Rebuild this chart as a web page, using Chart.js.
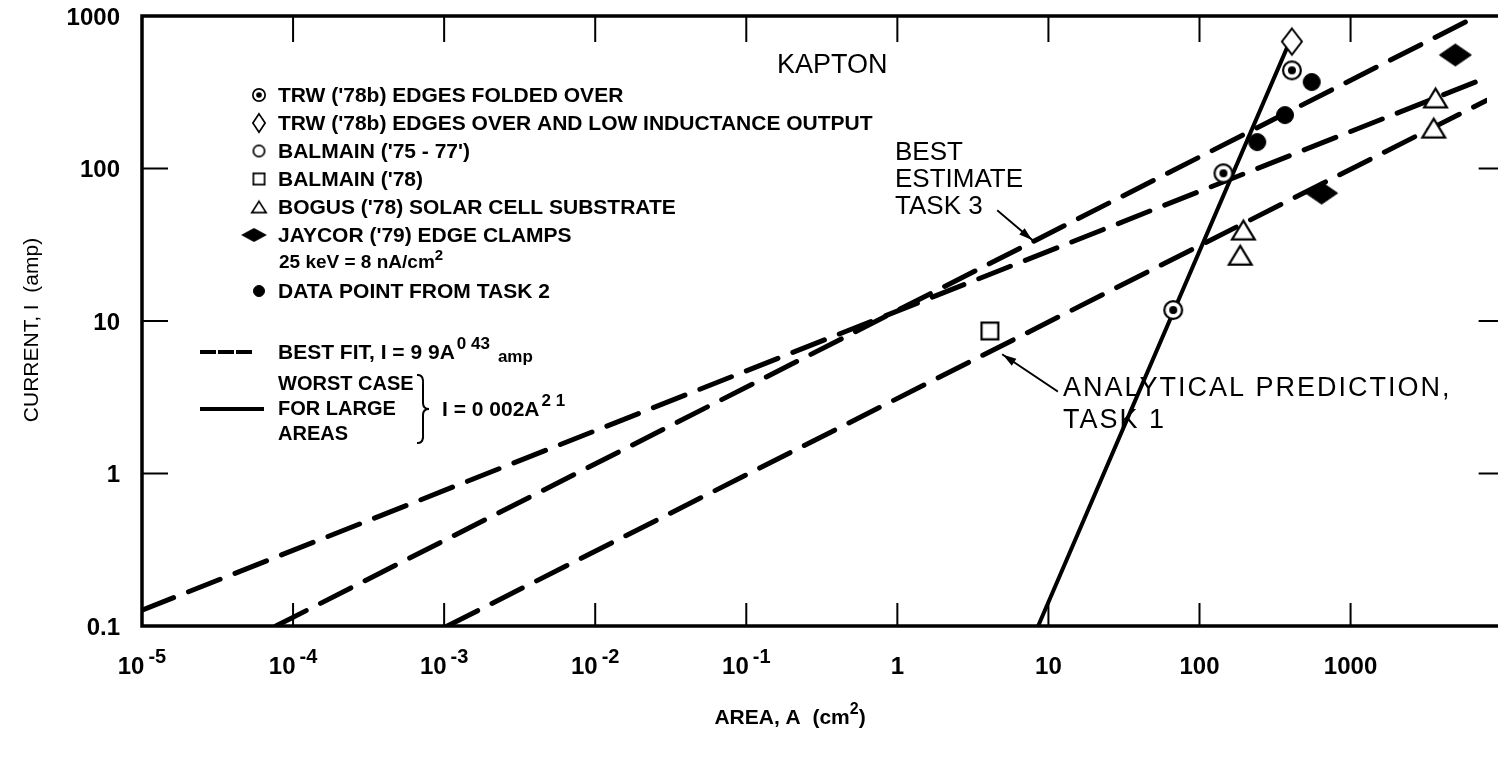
<!DOCTYPE html>
<html>
<head>
<meta charset="utf-8">
<script src="https://cdn.jsdelivr.net/npm/chart.js@4.4.0/dist/chart.umd.min.js"></script>
<style>
  html, body { margin: 0; padding: 0; background: #fff; }
  #wrap { width: 1498px; height: 759px; }
</style>
</head>
<body>
<div id="wrap"><canvas id="chart" width="1498" height="759"></canvas></div>
<script>
// decade ticks on both log axes
const xTicks = [1e-5, 1e-4, 1e-3, 1e-2, 1e-1, 1, 10, 100, 1000];
const xTickBase = ['10', '10', '10', '10', '10', '1', '10', '100', '1000'];
const xTickExp = ['-5', '-4', '-3', '-2', '-1', '', '', '', ''];
const yTicks = [0.1, 1, 10, 100, 1000];
const yTickLabels = ['0.1', '1', '10', '100', '1000'];

// measured points: area A (cm2) and current I (amp)
const trwFoldedA = [67, 144, 409];
const trwFoldedI = [11.8, 93, 440];
const trwLowIndA = [409];
const trwLowIndI = [680];
const balmain7577A = [];
const balmain7577I = [];
const balmain78A = [4.1];
const balmain78I = [8.6];
const bogusA = [186, 195, 3550, 3650];
const bogusI = [27, 39.5, 184, 290];
const jaycorA = [643, 4940];
const jaycorI = [69, 555];
const task2A = [241, 368, 553];
const task2I = [149, 224, 369];

// fitted lines, end points as drawn
const bestFitA = [1e-5, 8000];
const bestFitI = [0.127, 395];
const bestEstA = [7.7e-5, 6900];
const bestEstI = [0.1, 1000];
const analyticA = [1.05e-3, 8000];
const analyticI = [0.1, 280];
const worstA = [8.55, 380];
const worstI = [0.1, 620];

const FONT = '"Liberation Sans", Arial, Helvetica, sans-serif';

function pts(xs, ys) {
    return xs.map((x, i) => ({ x: x, y: ys[i] }));
}

// small canvases used as point styles
function makeMarker(kind, w, h, lw) {
    const c = document.createElement('canvas');
    c.width = w + 4;
    c.height = h + 4;
    const g = c.getContext('2d');
    const cx = c.width / 2, cy = c.height / 2;
    g.lineWidth = lw;
    g.strokeStyle = '#000';
    g.fillStyle = '#fff';
    g.beginPath();
    if (kind === 'circle' || kind === 'circleDot' || kind === 'dot') {
        g.arc(cx, cy, w / 2 - lw / 2, 0, Math.PI * 2);
    } else if (kind === 'diamond' || kind === 'diamondFill') {
        g.moveTo(cx, cy - h / 2 + lw / 2);
        g.lineTo(cx + w / 2 - lw / 2, cy);
        g.lineTo(cx, cy + h / 2 - lw / 2);
        g.lineTo(cx - w / 2 + lw / 2, cy);
        g.closePath();
    } else if (kind === 'square') {
        g.rect(cx - w / 2 + lw / 2, cy - h / 2 + lw / 2, w - lw, h - lw);
    } else if (kind === 'triangle') {
        g.moveTo(cx, cy - h / 2 + lw / 2);
        g.lineTo(cx + w / 2 - lw / 2, cy + h / 2 - lw / 2);
        g.lineTo(cx - w / 2 + lw / 2, cy + h / 2 - lw / 2);
        g.closePath();
    }
    if (kind === 'dot' || kind === 'diamondFill') g.fillStyle = '#000';
    g.fill();
    g.stroke();
    if (kind === 'circleDot') {
        g.beginPath();
        g.fillStyle = '#000';
        g.arc(cx, cy, w * 0.2, 0, Math.PI * 2);
        g.fill();
    }
    return c;
}

const big = {
    circleDot: makeMarker('circleDot', 20, 20, 2.2),
    diamond: makeMarker('diamond', 22, 28, 2),
    circle: makeMarker('circle', 18, 18, 2),
    square: makeMarker('square', 19, 19, 2.2),
    triangle: makeMarker('triangle', 25, 21, 2.2),
    diamondFill: makeMarker('diamondFill', 33, 23, 1),
    dot: makeMarker('dot', 18, 18, 1)
};
const small = {
    circleDot: makeMarker('circleDot', 14, 14, 1.7),
    diamond: makeMarker('diamond', 14, 20, 1.7),
    circle: makeMarker('circle', 13, 13, 1.7),
    square: makeMarker('square', 13, 13, 1.7),
    triangle: makeMarker('triangle', 16, 13, 1.7),
    diamondFill: makeMarker('diamondFill', 25, 14, 1),
    dot: makeMarker('dot', 12, 12, 1)
};

function pointSet(label, xs, ys, style) {
    return {
        label: label,
        data: pts(xs, ys),
        showLine: false,
        pointStyle: big[style],
        pointRadius: 10,
        order: 1
    };
}

function lineSet(label, xs, ys, dashed) {
    return {
        label: label,
        data: pts(xs, ys),
        showLine: true,
        borderColor: '#000',
        borderWidth: dashed ? 5 : 4,
        borderDash: dashed ? [34, 16] : [],
        borderCapStyle: 'round',
        pointRadius: 0,
        order: 2
    };
}

// draw a run of text pieces (for superscripts)
function rich(ctx, x, y, parts, align) {
    let total = 0;
    parts.forEach(p => { ctx.font = p.font; total += ctx.measureText(p.t).width + (p.gap || 0); });
    let cx = align === 'center' ? x - total / 2 : (align === 'right' ? x - total : x);
    parts.forEach(p => {
        ctx.font = p.font;
        ctx.textAlign = 'left';
        ctx.fillText(p.t, cx + (p.gap || 0), y + (p.dy || 0));
        cx += ctx.measureText(p.t).width + (p.gap || 0);
    });
}

function arrow(ctx, x1, y1, x2, y2) {
    ctx.beginPath();
    ctx.lineWidth = 2;
    ctx.moveTo(x1, y1);
    ctx.lineTo(x2, y2);
    ctx.stroke();
    const a = Math.atan2(y2 - y1, x2 - x1);
    ctx.beginPath();
    ctx.moveTo(x2, y2);
    ctx.lineTo(x2 - 14 * Math.cos(a - 0.3), y2 - 14 * Math.sin(a - 0.3));
    ctx.lineTo(x2 - 14 * Math.cos(a + 0.3), y2 - 14 * Math.sin(a + 0.3));
    ctx.closePath();
    ctx.fill();
}

const framePlugin = {
    id: 'frame',
    afterDraw(chart) {
        const ctx = chart.ctx;
        const xs = chart.scales.x, ys = chart.scales.y;
        const a = chart.chartArea;
        ctx.save();
        ctx.strokeStyle = '#000';
        ctx.fillStyle = '#000';
        ctx.lineCap = 'square';

        // frame
        ctx.lineWidth = 3.5;
        ctx.beginPath();
        ctx.moveTo(chart.width, a.top);
        ctx.lineTo(a.left, a.top);
        ctx.lineTo(a.left, a.bottom);
        ctx.lineTo(chart.width, a.bottom);
        ctx.stroke();

        // inward ticks
        ctx.lineWidth = 2;
        xTicks.forEach(v => {
            const px = xs.getPixelForValue(v);
            ctx.beginPath();
            ctx.moveTo(px, a.bottom);
            ctx.lineTo(px, a.bottom - 22);
            ctx.moveTo(px, a.top);
            ctx.lineTo(px, a.top + 25);
            ctx.stroke();
        });
        const xRight = xs.getPixelForValue(10000);
        yTicks.forEach(v => {
            const py = ys.getPixelForValue(v);
            ctx.beginPath();
            ctx.moveTo(a.left, py);
            ctx.lineTo(a.left + 25, py);
            ctx.moveTo(xRight, py);
            ctx.lineTo(xRight - 22, py);
            ctx.stroke();
        });

        // tick labels
        ctx.textBaseline = 'middle';
        ctx.textAlign = 'right';
        ctx.font = 'bold 24px ' + FONT;
        yTicks.forEach((v, i) => {
            ctx.fillText(yTickLabels[i], a.left - 22, ys.getPixelForValue(v) + 2);
        });
        xTicks.forEach((v, i) => {
            const parts = [{ t: xTickBase[i], font: 'bold 24px ' + FONT }];
            if (xTickExp[i]) parts.push({ t: xTickExp[i], font: 'bold 20px ' + FONT, dy: -10, gap: 4 });
            rich(ctx, xs.getPixelForValue(v), a.bottom + 41, parts, 'center');
        });

        // axis titles
        rich(ctx, 790, 718, [
            { t: 'AREA, A  (cm', font: 'bold 21px ' + FONT },
            { t: '2', font: 'bold 16px ' + FONT, dy: -8 },
            { t: ')', font: 'bold 21px ' + FONT }
        ], 'center');
        ctx.save();
        ctx.translate(32, 330);
        ctx.rotate(-Math.PI / 2);
        ctx.textAlign = 'center';
        ctx.font = '21px ' + FONT;
        ctx.fillText('CURRENT, I  (amp)', 0, 0);
        ctx.restore();

        // legend of symbols
        const legend = [
            ['circleDot', "TRW ('78b) EDGES FOLDED OVER"],
            ['diamond', "TRW ('78b) EDGES OVER AND LOW INDUCTANCE OUTPUT"],
            ['circle', "BALMAIN ('75 - 77')"],
            ['square', "BALMAIN ('78)"],
            ['triangle', "BOGUS ('78) SOLAR CELL SUBSTRATE"],
            ['diamondFill', "JAYCOR ('79) EDGE CLAMPS"],
            [null, ''],
            ['dot', 'DATA POINT FROM TASK 2']
        ];
        const row0 = 95, rowStep = 28;
        ctx.textAlign = 'left';
        legend.forEach((row, i) => {
            const y = row0 + i * rowStep;
            if (row[0]) {
                const m = small[row[0]];
                const mx = row[0] === 'diamondFill' ? 254 : 259;
                ctx.drawImage(m, mx - m.width / 2, y - m.height / 2);
                ctx.font = 'bold 21px ' + FONT;
                ctx.fillText(row[1], 278, y + 1);
            }
        });
        rich(ctx, 279, row0 + 6 * rowStep, [
            { t: '25 keV = 8 nA/cm', font: 'bold 19px ' + FONT },
            { t: '2', font: 'bold 15px ' + FONT, dy: -7 }
        ], 'left');

        // legend of lines
        const yFit = 352;
        ctx.lineWidth = 4;
        ctx.setLineDash([12, 6]);
        ctx.beginPath();
        ctx.moveTo(202, yFit);
        ctx.lineTo(256, yFit);
        ctx.stroke();
        ctx.setLineDash([]);
        rich(ctx, 278, yFit + 1, [
            { t: 'BEST FIT, I = 9 9A', font: 'bold 21px ' + FONT },
            { t: '0 43', font: 'bold 17px ' + FONT, dy: -9, gap: 2 },
            { t: 'amp', font: 'bold 17px ' + FONT, dy: 4, gap: 8 }
        ], 'left');
        const yW = 384, step = 25;
        ctx.font = 'bold 20px ' + FONT;
        ctx.fillText('WORST CASE', 278, yW);
        ctx.fillText('FOR LARGE', 278, yW + step);
        ctx.fillText('AREAS', 278, yW + 2 * step);
        ctx.beginPath();
        ctx.moveTo(202, yW + step);
        ctx.lineTo(262, yW + step);
        ctx.stroke();
        // brace
        ctx.lineWidth = 2;
        ctx.beginPath();
        const bx = 418, bt = yW - 9, bb = yW + 2 * step + 9, bm = (bt + bb) / 2;
        ctx.moveTo(bx, bt);
        ctx.quadraticCurveTo(bx + 6, bt, bx + 5, bt + 10);
        ctx.lineTo(bx + 5, bm - 6);
        ctx.quadraticCurveTo(bx + 5, bm, bx + 11, bm);
        ctx.quadraticCurveTo(bx + 5, bm, bx + 5, bm + 6);
        ctx.lineTo(bx + 5, bb - 10);
        ctx.quadraticCurveTo(bx + 6, bb, bx, bb);
        ctx.stroke();
        rich(ctx, 442, yW + step + 1, [
            { t: 'I = 0 002A', font: 'bold 21px ' + FONT },
            { t: '2 1', font: 'bold 17px ' + FONT, dy: -9, gap: 2 }
        ], 'left');

        // annotations
        ctx.font = '27px ' + FONT;
        ctx.fillText('KAPTON', 777, 66);
        ctx.font = '26px ' + FONT;
        ctx.fillText('BEST', 895, 153);
        ctx.fillText('ESTIMATE', 895, 180);
        ctx.fillText('TASK 3', 895, 207);
        arrow(ctx, 998, 211, xs.getPixelForValue(7.8), ys.getPixelForValue(34));
        ctx.font = '27px ' + FONT;
        ctx.letterSpacing = '2px';
        ctx.fillText('ANALYTICAL PREDICTION,', 1063, 389);
        ctx.fillText('TASK 1', 1063, 421);
        ctx.letterSpacing = '0px';
        arrow(ctx, 1057, 391, xs.getPixelForValue(5.0), ys.getPixelForValue(6.0));
        ctx.restore();
    }
};

new Chart(document.getElementById('chart'), {
    type: 'scatter',
    data: {
        datasets: [
            pointSet("TRW ('78b) EDGES FOLDED OVER", trwFoldedA, trwFoldedI, 'circleDot'),
            pointSet("TRW ('78b) EDGES OVER AND LOW INDUCTANCE OUTPUT", trwLowIndA, trwLowIndI, 'diamond'),
            pointSet("BALMAIN ('75 - 77')", balmain7577A, balmain7577I, 'circle'),
            pointSet("BALMAIN ('78)", balmain78A, balmain78I, 'square'),
            pointSet("BOGUS ('78) SOLAR CELL SUBSTRATE", bogusA, bogusI, 'triangle'),
            pointSet("JAYCOR ('79) EDGE CLAMPS", jaycorA, jaycorI, 'diamondFill'),
            pointSet('DATA POINT FROM TASK 2', task2A, task2I, 'dot'),
            lineSet('BEST FIT', bestFitA, bestFitI, true),
            lineSet('BEST ESTIMATE TASK 3', bestEstA, bestEstI, true),
            lineSet('ANALYTICAL PREDICTION, TASK 1', analyticA, analyticI, true),
            lineSet('WORST CASE FOR LARGE AREAS', worstA, worstI, false)
        ]
    },
    options: {
        responsive: false,
        animation: false,
        layout: { padding: { left: 142, top: 16, right: 0, bottom: 133 } },
        plugins: { legend: { display: false }, tooltip: { enabled: false } },
        scales: {
            x: { type: 'logarithmic', min: 1e-5, max: 8000, display: false },
            y: { type: 'logarithmic', min: 0.1, max: 1000, display: false }
        }
    },
    plugins: [framePlugin]
});
</script>
</body>
</html>
